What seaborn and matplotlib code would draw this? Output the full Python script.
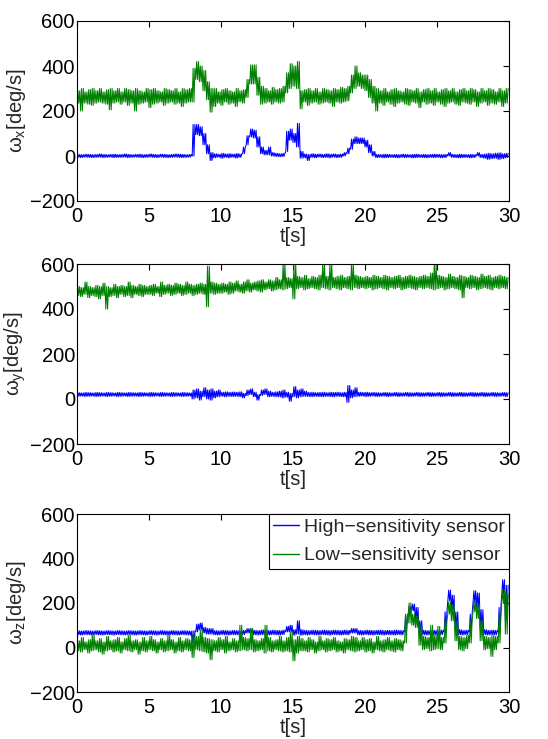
import numpy as np
import pandas as pd
import matplotlib
matplotlib.use("Agg")
import matplotlib.pyplot as plt
import seaborn as sns

# ---- data: band envelope (low / high value) read per 0.25 s bin, 0..30 s ----
bin_width = 0.25
n_bins = 120

# panel x : low-sensitivity (green)
gx_hi = ([290,300,285,295,300,290,300,285, 295,300,290,300,285,300,295,290,
          300,290,285,300,295,300,290,285, 300,295,290,300,285,300,295,300]
         + [390,420,400,380,330,300]
         + [300,285,295,300,290,285,300,290,295]
         + [340,405,405,350,310]
         + [300,290,305,295,300,310]
         + [370,410,400,420]
         + [290]
         + [295,300,290,300,285,300,295,290,300,295,305,300,310]
         + [360,400,370,360,360,340,310,300]
         + [290,300,285,295,300,290,285,300, 295,290,300,285,295,300,290,300,
            285,295,300,290,300,285,295,300, 290,300,295,285,300,290,300,295,
            285,300,290,300])
gx_lo = ([235,200,235,230,225,235,240,235, 230,205,235,240,230,240,225,235,
          200,230,235,240,215,230,235,240, 225,235,240,230,235,220,235,240]
         + [240,340,330,290,250,195]
         + [220,235,225,240,230,235,220,240,235]
         + [260,320,320,270,230]
         + [235,240,230,240,235,240]
         + [280,300,310,300]
         + [210]
         + [240,225,235,240,230,235,240,235,220,240,235,240,245]
         + [280,300,310,300,290,260,235,200]
         + [235,225,240,230,220,235,240,230, 225,240,235,215,240,230,235,225,
            240,230,220,235,240,230,225,240, 235,230,240,220,235,240,225,235,
            230,240,220,235])
# panel x : high-sensitivity (blue)
bx_hi = ([7,6,8,7,6,7,9,7, 6,7,8,6,7,9,7,6, 7,8,6,7,9,7,6,8, 7,6,7,9,8,7,6,7]
         + [140,140,130,100,50,15]
         + [10,8,12,9,10,8,11,9]
         + [40,90,120,115,85,40]
         + [25,40,15,12,10,12]
         + [110,120,100,145]
         + [20]
         + [9,7,10,8,9,7,10,8,9,7,9]
         + [15,35]
         + [75,85,80,80,70,50,20]
         + [7,6,8,7,6,7,6,8, 7,6,7,8,6,7,6,7, 8,7,6,7,15,7,6,8,
            7,6,7,6,15,7,9,12, 10,12,14,10,12])
bx_lo = ([-6,-7,-5,-6,-7,-6,-5,-7, -6,-5,-7,-6,-6,-5,-7,-6,
          -5,-6,-7,-6,-5,-6,-7,-5, -6,-7,-6,-5,-6,-7,-6,-5]
         + [0,95,90,50,10,-20]
         + [-8,-5,-10,-6,-8,-5,-9,-6]
         + [10,50,85,80,40,10]
         + [5,5,0,-2,-3,-2]
         + [20,70,60,40]
         + [-10]
         + [-8,-20,-6,-8,-5,-7,-6,-8,-5,-7,-6]
         + [0,10]
         + [30,55,55,55,40,15,0]
         + [-7,-6,-8,-7,-6,-7,-8,-6, -7,-6,-8,-7,-6,-7,-8,-6,
            -7,-6,-8,-7,0,-6,-7,-8, -7,-6,-8,-7,0,-7,-10,-15,
            -12,-10,-15,-12,-8])

# panel y : low-sensitivity (green)
gy_hi = ([500,495,520,500,495,505,500,515,500,495,510,500,505,500,520,505,500,510,505,500]
         + [505,510,500,520,505,510,505,515,510,505,520,510,505,510,515,510,590,520,515,510]
         + [515,510,520,515,525,510,520,530,515,520,525,530,520,530,525,540,530,600,540,535]
         + [600,545,540,550,535,545,540,550,600,545,600,540,545,550,540,545,600,550,545,540]
         + [545,540,550,545,540,550,545,540,545,550,540,545,550,545,540,545,550,545,560,600]
         + [550,545,540,555,545,540,550,545,540,550,545,540,555,545,550,540,545,550,545,540])
gy_lo = ([460,455,465,450,460,455,445,460,400,455,460,450,465,455,460,450,465,460,455,465]
         + [465,460,470,455,465,470,460,465,470,460,465,470,460,465,470,465,410,470,465,470]
         + [470,475,465,470,480,475,470,480,475,485,480,475,485,490,480,485,490,485,490,495]
         + [445,490,495,485,490,495,490,485,495,490,485,495,490,485,495,490,485,495,490,495]
         + [490,495,485,490,495,490,485,495,490,495,485,490,495,490,485,495,490,495,490,485]
         + [490,495,485,490,495,490,485,450,495,490,495,485,490,495,490,485,495,490,495,490])
# panel y : high-sensitivity (blue)
by_hi = ([28,27,29,28,27,29,28,27, 29,28,27,29,28,27,29,28,
          27,29,28,27,29,28,27,29, 28,27,29,28,27,29,28,27]
         + [40,45,35,50,40,45,35,40]
         + [30,32,30,31,30,32]
         + [25,40,45,30,20,40,45,35,30,32]
         + [35,40,30,25,55,40,45,35]
         + [29,30,28,29,30,28,30,29,30,28]
         + [30,60,40,50]
         + [30,29,30,28,29,28,27,29,28,27, 29,28,27,29,28,27,29,28,27,29,
            28,27,29,28,27,29,28,27,29,28, 27,29,28,27,29,28,27,29,28,27,
            29,28])
by_lo = ([12,13,11,12,13,11,12,13, 11,12,13,11,12,13,11,12,
          13,11,12,13,11,12,13,11, 12,13,11,12,13,11,12,13]
         + [0,5,-5,10,0,-5,5,10]
         + [12,10,12,11,12,10]
         + [5,15,20,10,-5,15,20,10,12,10]
         + [10,5,8,-10,10,5,10,12]
         + [11,10,12,11,10,12,11,10,12,11]
         + [10,-15,5,10]
         + [12,13,11,12,13,11,12,13,11,12, 13,11,12,13,11,12,13,11,12,13,
            11,12,13,11,12,13,11,12,13,11, 12,13,11,12,13,11,12,13,11,12,
            13,11])

# panel z : high-sensitivity (blue)
bz_hi = ([75,74,76,75,74,76,75,74, 76,75,74,76,75,74,76,75,
          74,76,75,74,76,75,74,76, 75,74,76,75,74,76,75,74]
         + [75,105,110,90,85,85]
         + [76,75,77,76,75,77,76,75,77]
         + [85,85]
         + [77,76,79,77,76,78,77,76,78]
         + [95,100,80,120,80]
         + [77,76,78,77,76,78,77,76,78,77,76,78,77]
         + [85,85]
         + [77,76,78,77,76,77,78,76,77,76,78,77,76]
         + [140,185,195,180,120]
         + [77,76,78,77,76,78]
         + [160,258,235,160]
         + [80,77,78]
         + [150,255,245,170]
         + [80,77,78,77]
         + [180,305,280])
bz_lo = ([57,56,58,57,56,58,57,56, 58,57,56,58,57,56,58,57,
          56,58,57,56,58,57,56,58, 57,56,58,57,56,58,57,56]
         + [20,70,80,65,60,60]
         + [57,56,58,57,56,58,57,56,58]
         + [65,65]
         + [57,56,58,57,56,58,57,56,58]
         + [70,70,55,60,55]
         + [57,56,58,57,56,58,57,56,58,57,56,58,57]
         + [65,65]
         + [57,56,58,57,56,58,57,56,58,57,56,58,57]
         + [70,150,165,120,65]
         + [57,56,58,57,56,58]
         + [70,210,170,80]
         + [57,56,58]
         + [70,200,180,80]
         + [57,56,58,57]
         + [70,240,120])
# panel z : low-sensitivity (green)
gz_hi = ([30,45,25,35,55,30,40,25, 50,30,35,45,25,40,55,30,
          35,25,45,30,50,35,25,40, 30,55,35,25,45,30,40,35]
         + [60,50,80,45,40,35]
         + [30,45,35,50,25,40,30,100,45]
         + [40,85]
         + [35,30,40,100,45,30,35,50,30]
         + [45,70,35,50,40]
         + [30,45,35,25,50,30,40,35,45,30,25,40,35]
         + [50,45]
         + [30,45,35,40,25,50,30,35,45,30,40,35,30]
         + [150,200,150,140,100]
         + [50,45,100,55,95,45]
         + [120,205,190,120]
         + [50,45,55]
         + [120,210,195,120]
         + [50,45,55,50]
         + [140,260,240])
gz_lo = ([-15,-20,-10,-25,-15,-10,-20,-30, -15,-10,-20,-15,-25,-10,-15,-20,
          -10,-30,-15,-20,-10,-15,-25,-10, -20,-15,-10,-25,-15,-20,-10,-15]
         + [-45,-10,-15,-20,-25,-55]
         + [-15,-20,-10,-25,-15,-10,-20,-15,-10]
         + [-15,-10]
         + [-20,-15,-10,-25,-15,-20,-10,-15,-20]
         + [-15,-20,-60,-25,-15]
         + [-15,-20,-10,-25,-15,-10,-20,-15,-10,-20,-15,-25,-10]
         + [-15,-20]
         + [-15,-10,-20,-15,-25,-10,-15,-20,-10,-15,-20,-10,-15]
         + [20,110,100,90,10]
         + [-10,-5,-15,-10,-5,-10]
         + [20,150,120,30]
         + [-10,-15,-5]
         + [20,160,130,30]
         + [-10,-5,-40,-10]
         + [20,200,60])

series_names = ["High\u2212sensitivity sensor", "Low\u2212sensitivity sensor"]
axis_labels = ["\u03c9$_{\\mathregular{x}}$[deg/s]",
               "\u03c9$_{\\mathregular{y}}$[deg/s]",
               "\u03c9$_{\\mathregular{z}}$[deg/s]"]
xticks = [0, 5, 10, 15, 20, 25, 30]
yticks = [-200, 0, 200, 400, 600]

panels = [
    ((bx_lo, bx_hi), (gx_lo, gx_hi)),
    ((by_lo, by_hi), (gy_lo, gy_hi)),
    ((bz_lo, bz_hi), (gz_lo, gz_hi)),
]

SWEEPS = 2  # low/high excursions drawn inside each 0.25 s bin


def band_trace(lo, hi):
    lo = np.asarray(lo, float)
    hi = np.asarray(hi, float)
    assert len(lo) == n_bins and len(hi) == n_bins
    n = 2 * SWEEPS
    t = np.arange(n * n_bins) * (bin_width / n)
    y = np.empty(n * n_bins)
    for j in range(SWEEPS):
        y[2 * j::n] = lo
        y[2 * j + 1::n] = hi
    return t, y


sns.set_style("white")
plt.rcParams["font.family"] = ["Liberation Sans", "DejaVu Sans"]
plt.rcParams["mathtext.fontset"] = "custom"
plt.rcParams["mathtext.rm"] = "Liberation Sans"
plt.rcParams["mathtext.it"] = "Liberation Sans:italic"

W, H = 548, 739
fig = plt.figure(figsize=(W / 100, H / 100), dpi=100)
fig.patch.set_facecolor("white")

ax_boxes = [(77, 21, 509, 201), (77, 264, 509, 444), (77, 514, 509, 692)]
palette = {series_names[0]: (0, 0, 1), series_names[1]: (0, 0.5, 0)}
fs = 14.5

for k, ((blo, bhi), (glo, ghi)) in enumerate(panels):
    x0, y0, x1, y1 = ax_boxes[k]
    ax = fig.add_axes([x0 / W, 1 - y1 / H, (x1 - x0) / W, (y1 - y0) / H])
    tb, yb = band_trace(blo, bhi)
    tg, yg = band_trace(glo, ghi)
    df = pd.DataFrame({
        "t": np.concatenate([tb, tg]),
        "v": np.concatenate([yb, yg]),
        "sensor": [series_names[0]] * len(tb) + [series_names[1]] * len(tg),
    })
    sns.lineplot(data=df, x="t", y="v", hue="sensor", hue_order=series_names,
                 palette=palette, estimator=None, sort=False, linewidth=0.75,
                 legend=(k == 2), ax=ax)
    ax.set_xlim(0, 30)
    ax.set_ylim(-200, 600)
    ax.set_xticks(xticks)
    ax.set_yticks(yticks)
    ax.set_xticklabels([str(v) for v in xticks])
    ax.set_yticklabels([str(v).replace("-", "\u2212") for v in yticks])
    ax.tick_params(direction="in", length=4, width=0.8, top=True, right=True,
                   labelsize=fs, colors="black")
    ax.tick_params(axis="x", pad=4.5)
    ax.tick_params(axis="y", pad=1.5)
    for s in ax.spines.values():
        s.set_visible(True)
        s.set_color("black")
        s.set_linewidth(0.8)
    ax.set_xlabel("t[s]", fontsize=fs, labelpad=0.5)
    ax.set_ylabel(axis_labels[k], fontsize=fs, labelpad=1)
    ax.set_facecolor("white")
    if k == 2:
        handles, labels = ax.get_legend_handles_labels()
        for h in handles:
            h.set_linewidth(1.0)
        leg = ax.legend(handles, labels, loc="upper right", fontsize=14,
                        frameon=True, fancybox=False, framealpha=1,
                        edgecolor="black", borderaxespad=0, handlelength=1.3,
                        handletextpad=0.25, borderpad=0.23, labelspacing=0.55)
        leg.get_frame().set_linewidth(0.8)

fig.savefig("out.png", dpi=100, facecolor="white")
